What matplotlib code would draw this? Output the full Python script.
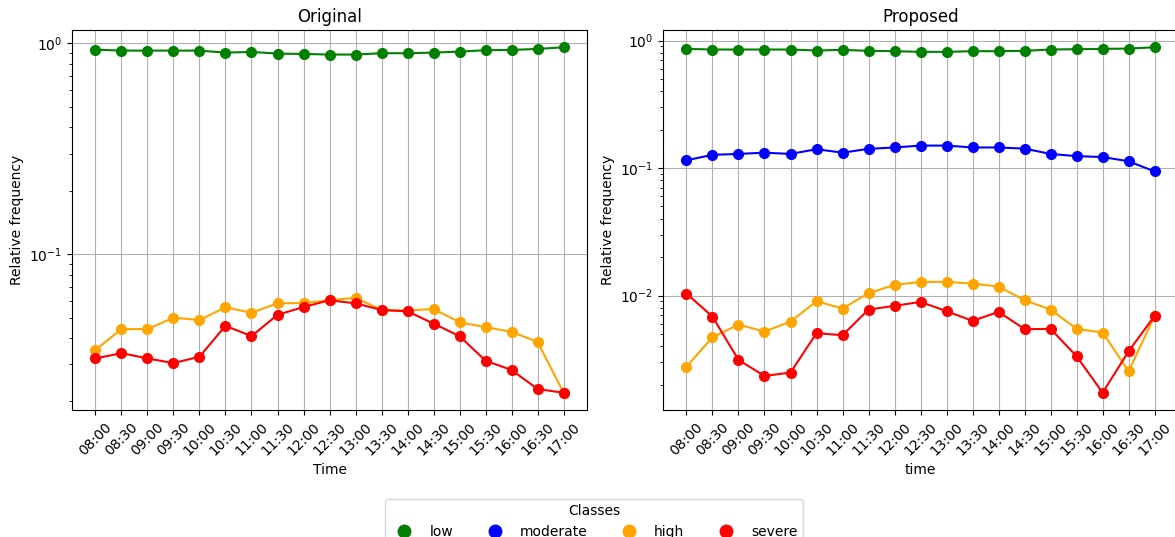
import matplotlib
matplotlib.use("Agg")
import matplotlib.pyplot as plt
from matplotlib.lines import Line2D

# half-hourly time slots
times = ["08:00", "08:30", "09:00", "09:30", "10:00", "10:30", "11:00", "11:30",
         "12:00", "12:30", "13:00", "13:30", "14:00", "14:30", "15:00", "15:30",
         "16:00", "16:30", "17:00"]

# relative frequencies per class, original classification
orig_low = [0.933, 0.923, 0.923, 0.923, 0.923, 0.903, 0.910, 0.893, 0.890, 0.884,
            0.884, 0.897, 0.897, 0.903, 0.913, 0.927, 0.930, 0.940, 0.957]
orig_high = [0.0351, 0.0441, 0.0441, 0.0499, 0.0487, 0.0559, 0.0527, 0.0584, 0.0586,
             0.0604, 0.0621, 0.0543, 0.0540, 0.0549, 0.0475, 0.0450, 0.0428, 0.0383, 0.0220]
orig_severe = [0.0320, 0.0339, 0.0320, 0.0304, 0.0326, 0.0457, 0.0408, 0.0515, 0.0561,
               0.0604, 0.0584, 0.0543, 0.0535, 0.0468, 0.0408, 0.0312, 0.0282, 0.0229, 0.0220]

# relative frequencies per class, proposed classification
prop_low = [0.860, 0.850, 0.850, 0.850, 0.850, 0.835, 0.845, 0.830, 0.825, 0.815,
            0.815, 0.825, 0.825, 0.830, 0.850, 0.855, 0.860, 0.865, 0.885]
prop_moderate = [0.115, 0.127, 0.129, 0.132, 0.129, 0.1405, 0.132, 0.1414, 0.145, 0.150,
                 0.150, 0.145, 0.145, 0.142, 0.129, 0.124, 0.122, 0.113, 0.094]
prop_high = [0.00277, 0.00471, 0.00592, 0.00522, 0.00625, 0.00903, 0.00791, 0.01043,
             0.01212, 0.0128, 0.0128, 0.01242, 0.01177, 0.0092, 0.00777, 0.00548,
             0.00513, 0.00255, 0.00693]
prop_severe = [0.01037, 0.00684, 0.00313, 0.00234, 0.00249, 0.00507, 0.00489, 0.00777,
               0.0083, 0.00892, 0.00754, 0.00633, 0.00745, 0.00545, 0.00548, 0.00334,
               0.00173, 0.00366, 0.00693]

classes = ["low", "moderate", "high", "severe"]
colors = {"low": "green", "moderate": "blue", "high": "orange", "severe": "red"}


def plot_panel(ax, series, title, xlabel):
    x = range(len(times))
    for name, values in series.items():
        ax.plot(x, values, marker="o", color=colors[name], linewidth=1.5,
                markersize=7, label=name)
    ax.set_yscale("log")
    ax.set_xticks(list(x))
    ax.set_xticklabels(times, rotation=45)
    ax.grid(True)
    ax.set_title(title, fontsize=12)
    ax.set_xlabel(xlabel)
    ax.set_ylabel("Relative frequency")


fig = plt.figure(figsize=(11.75, 5.37), dpi=100)
ax1 = fig.add_axes([0.0613, 0.2365, 0.4383, 0.7076])
ax2 = fig.add_axes([0.5643, 0.2365, 0.4383, 0.7076])

plot_panel(ax1, {"low": orig_low, "high": orig_high, "severe": orig_severe},
           "Original", "Time")
plot_panel(ax2, {"low": prop_low, "moderate": prop_moderate,
                 "high": prop_high, "severe": prop_severe},
           "Proposed", "time")

handles = [Line2D([], [], marker="o", linestyle="", color=colors[c], markersize=9)
           for c in classes]
fig.legend(handles, classes, title="Classes", ncol=4, loc="upper center",
           bbox_to_anchor=(0.5055, 0.084))

fig.savefig("out.png", dpi=100)
